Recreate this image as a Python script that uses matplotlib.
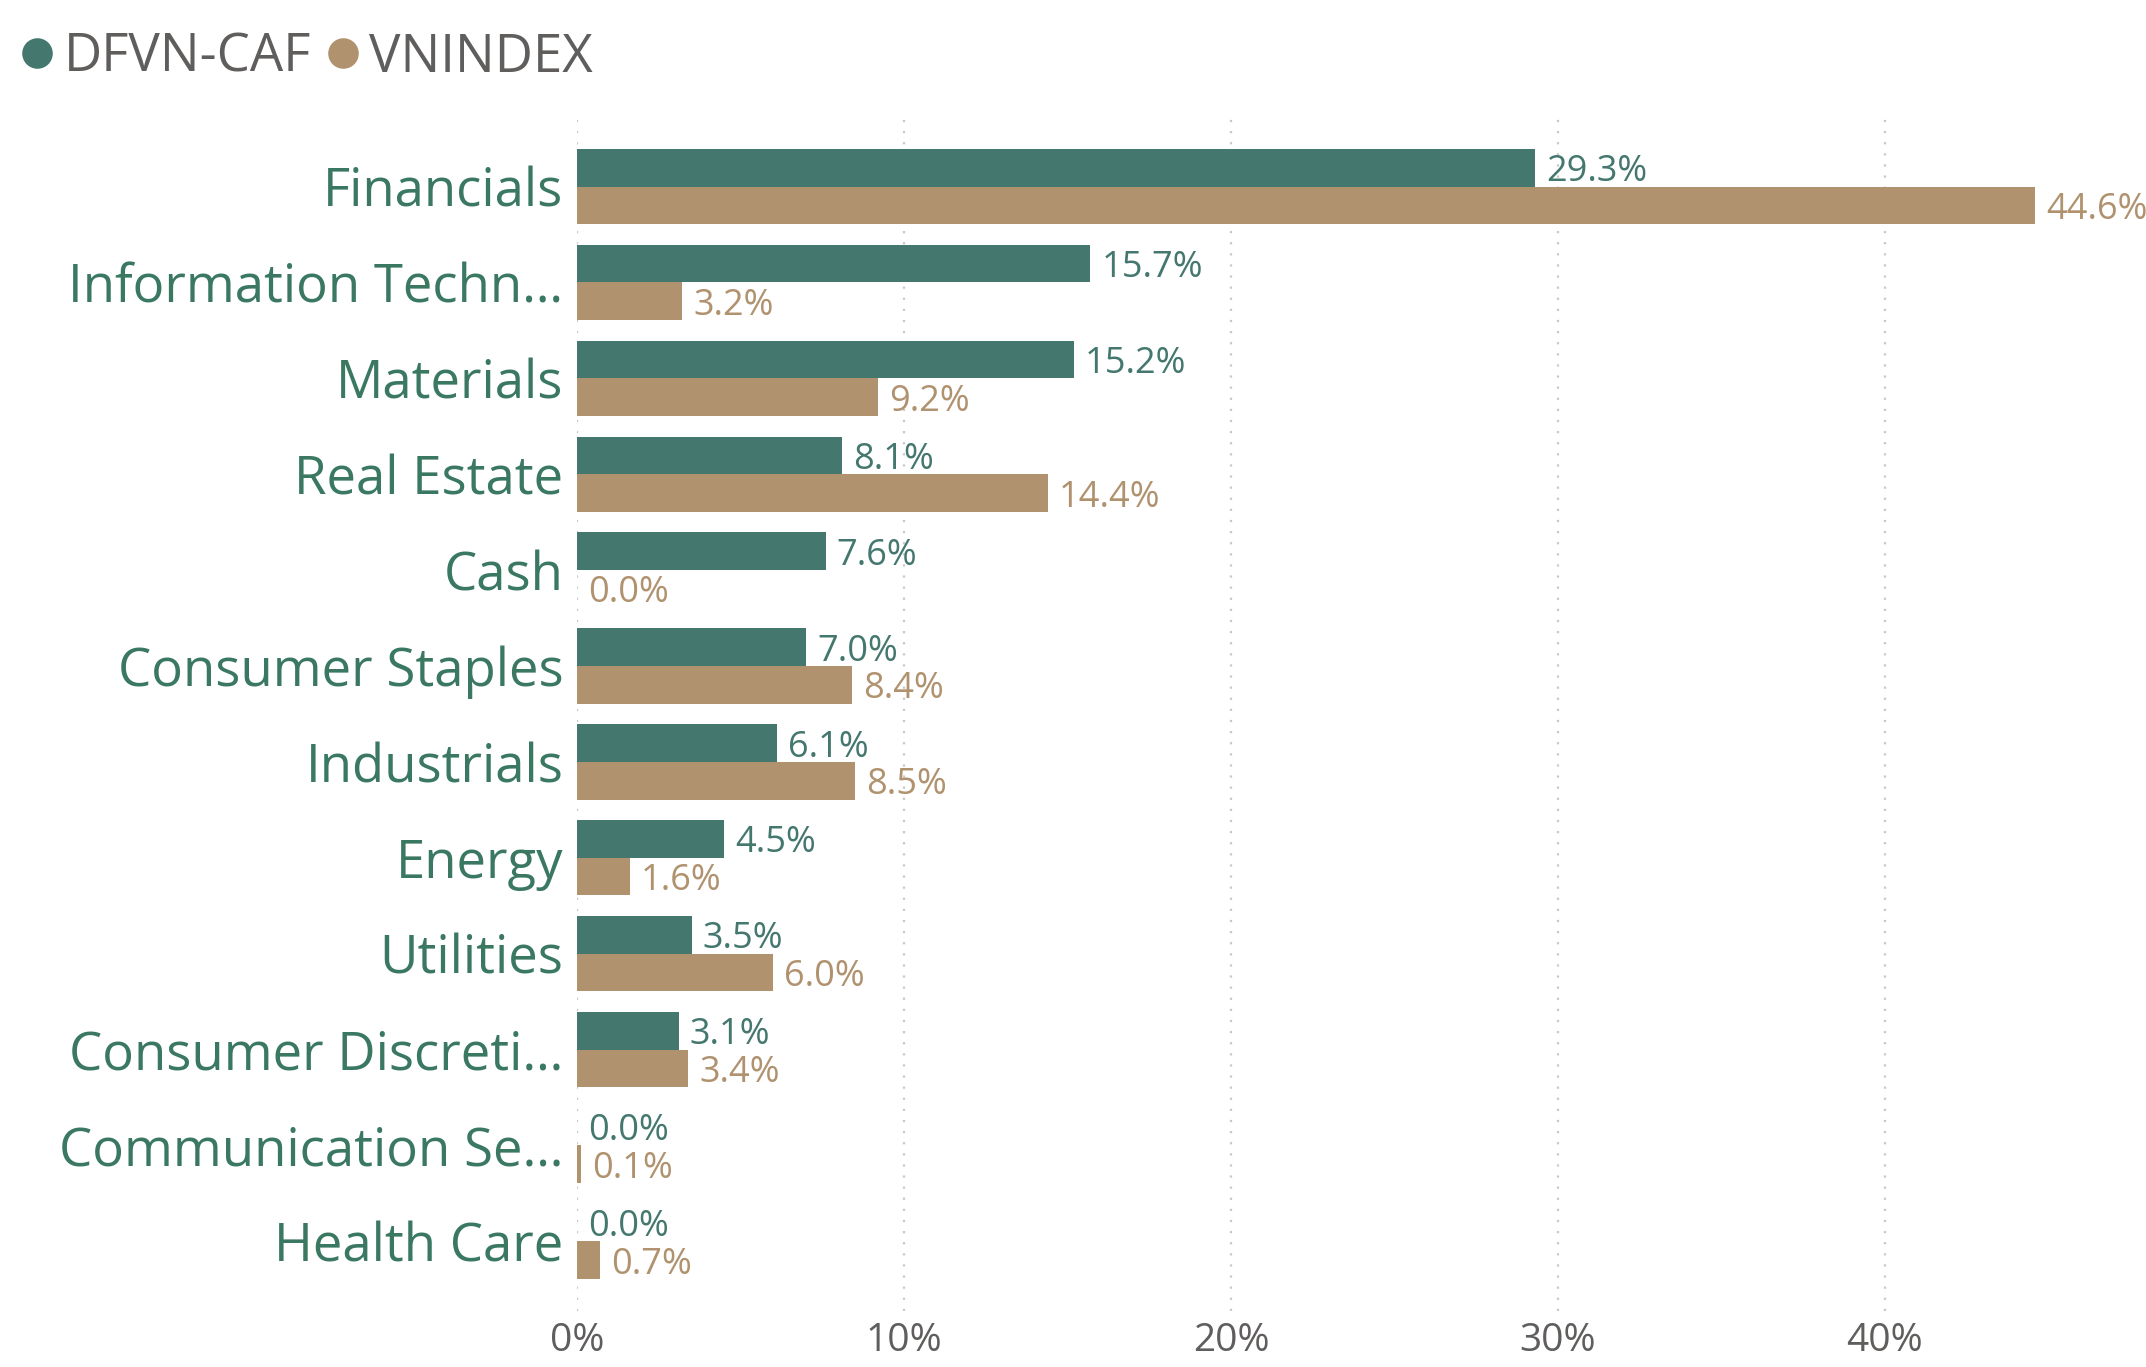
import numpy as np
import matplotlib.pyplot as plt
from matplotlib.lines import Line2D

plt.rcParams['font.family'] = ['Open Sans', 'DejaVu Sans']

sectors = ['Financials', 'Information Techn…', 'Materials', 'Real Estate', 'Cash',
           'Consumer Staples', 'Industrials', 'Energy', 'Utilities',
           'Consumer Discreti…', 'Communication Se…', 'Health Care']
fund = [29.3, 15.7, 15.2, 8.1, 7.6, 7.0, 6.1, 4.5, 3.5, 3.1, 0.0, 0.0]
index = [44.6, 3.2, 9.2, 14.4, 0.0, 8.4, 8.5, 1.6, 6.0, 3.4, 0.1, 0.7]
xticks = [0, 10, 20, 30, 40]

green = '#44776e'
tan = '#b0926f'
gray = '#605e5c'

fig = plt.figure(figsize=(10.73, 6.835), dpi=200)
ax = fig.add_axes([0.269, 0.0407, 0.731, 0.874])

y = np.arange(len(sectors))
h = 0.393
ax.barh(y - h / 2, fund, height=h, color=green)
ax.barh(y + h / 2, index, height=h, color=tan)

for i in range(len(sectors)):
    ax.annotate(f'{fund[i]:.1f}%', (fund[i], y[i] - h / 2), xytext=(4, 0),
                textcoords='offset points', va='center_baseline', ha='left',
                fontsize=13, color=green)
    ax.annotate(f'{index[i]:.1f}%', (index[i], y[i] + h / 2), xytext=(4, 0),
                textcoords='offset points', va='center_baseline', ha='left',
                fontsize=13, color=tan)

ax.set_xlim(0, 48)
ax.set_ylim(11.73, -0.73)
ax.set_yticks(y)
ax.set_yticklabels(sectors, fontsize=19, color='#3a7862')
ax.set_xticks(xticks)
ax.set_xticklabels([f'{t}%' for t in xticks], fontsize=14, color=gray)
ax.tick_params(length=0)
ax.tick_params(axis='x', pad=4)
ax.tick_params(axis='y', pad=5)
ax.grid(axis='x', linestyle=(0, (1, 4)), color='#c8c8c8', linewidth=0.8)
ax.set_axisbelow(True)
for s in ax.spines.values():
    s.set_visible(False)

handles = [Line2D([], [], marker='o', linestyle='', markersize=10, color=green),
           Line2D([], [], marker='o', linestyle='', markersize=10, color=tan)]
fig.legend(handles, ['DFVN-CAF', 'VNINDEX'], loc='upper left', bbox_to_anchor=(-0.017, 1.012),
           ncol=2, frameon=False, fontsize=19, labelcolor=gray,
           handletextpad=0.0, columnspacing=0.1, handlelength=1.0)

fig.savefig('out.png')
